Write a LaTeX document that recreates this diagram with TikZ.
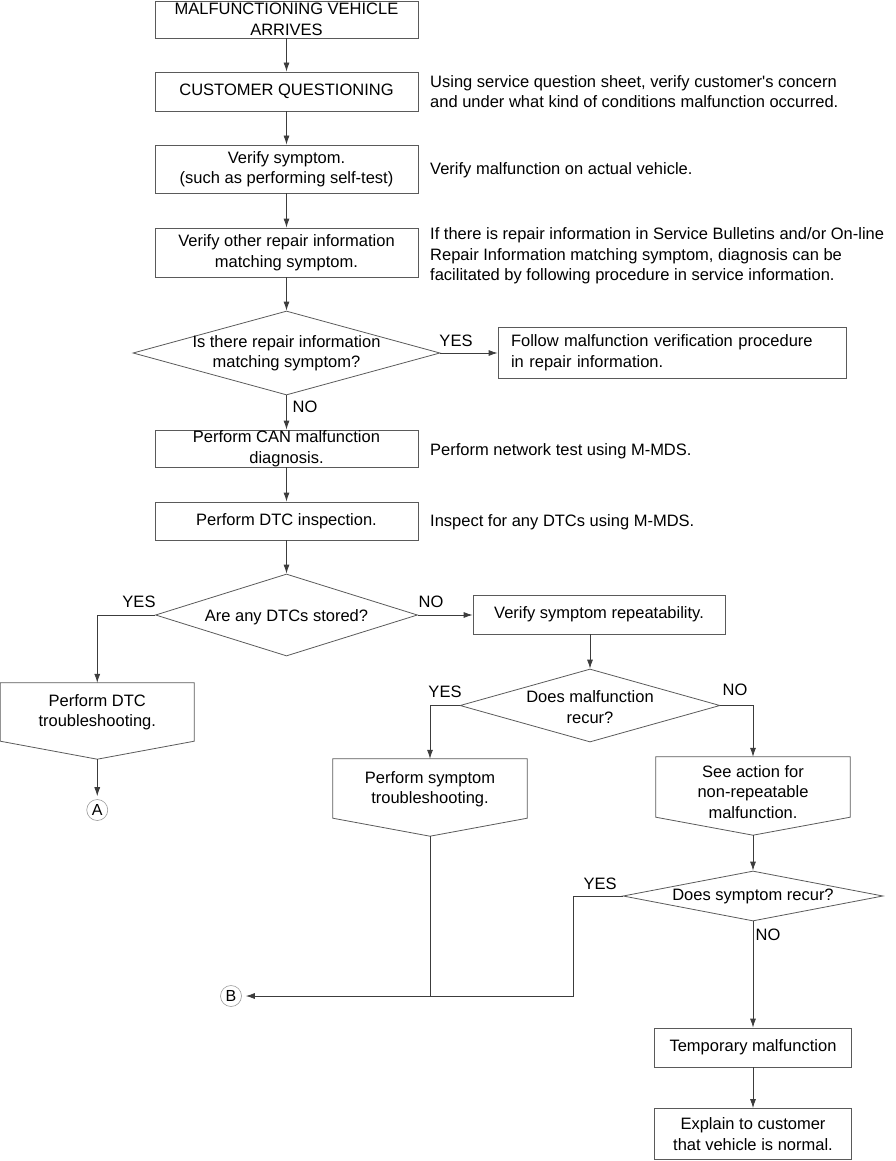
\documentclass[tikz,border=0pt]{standalone}
\usepackage{fontspec}
\setmainfont{Liberation Sans}[Ligatures=TeXOff]
\usetikzlibrary{shapes.geometric,arrows.meta}
\definecolor{boxc}{HTML}{5A5A5A}
\definecolor{linec}{HTML}{3C3C3C}
\definecolor{circc}{HTML}{9A9A9A}
\begin{document}
\begin{tikzpicture}[x=1pt,y=-1pt,
  every node/.style={font=\fontsize{16.5}{20.5}\selectfont, inner sep=0pt},
  box/.style={draw=boxc, line width=0.8pt, align=center},
  dia/.style={draw=boxc, line width=0.8pt, diamond},
  lbl/.style={},
  side/.style={anchor=west, align=left},
  arr/.style={draw=linec, line width=0.8pt, -{Latex[length=9pt,width=6pt]}},
  ln/.style={draw=linec, line width=0.8pt},
  circ/.style={circle, draw=circc, line width=0.6pt, minimum size=21pt, font=\fontsize{16}{16}\selectfont}
]
\useasboundingbox (0,0) rectangle (896,1161);

% main column boxes
\node[box, minimum width=263pt, minimum height=37pt] (b1) at (286.5,19.5) {MALFUNCTIONING VEHICLE\\ARRIVES};
\node[box, minimum width=263pt, minimum height=39pt] (b2) at (286.5,91.5) {CUSTOMER QUESTIONING};
\node[box, minimum width=263pt, minimum height=48pt] (b3) at (286.5,169) {Verify symptom.\\(such as performing self-test)};
\node[box, minimum width=263pt, minimum height=49pt] (b4) at (286.5,252.5) {Verify other repair information\\matching symptom.};
\node[dia, minimum width=307pt, minimum height=84pt] (d1) at (286.5,353) {};
\node[align=center] (d1t) at (286.5,353) {Is there repair information\\matching symptom?};
\node[box, align=left, text width=322pt, inner xsep=13pt, minimum height=51pt] (fol) at (672,352.5) {Follow malfunction verification procedure\\in repair information.};
\node[box, minimum width=263pt, minimum height=37pt] (b5) at (286.5,448.5) {Perform CAN malfunction\\diagnosis.};
\node[box, minimum width=263pt, minimum height=38pt] (b6) at (286.5,521) {Perform DTC inspection.};
\node[dia, minimum width=262pt, minimum height=82pt] (d2) at (286.5,615) {};
\node (d2t) at (286.5,617) {Are any DTCs stored?};
\node[box, minimum width=252pt, minimum height=39pt] (vsr) at (599,614.5) {Verify symptom repeatability.};
\node[dia, minimum width=260pt, minimum height=73pt] (d3) at (590,705.5) {};
\node[align=center] (d3t) at (590,707) {Does malfunction\\recur?};

% pentagons
\node[minimum width=193.5pt, minimum height=58pt] (p1) at (97.25,712) {};
\node[align=center] (p1t) at (97.25,712) {Perform DTC\\troubleshooting.};
\coordinate[yshift=-18pt] (p1tip) at (p1.south);
\draw[draw=boxc, line width=0.8pt] (p1.north west) -- (p1.north east) -- (p1.south east) -- (p1tip) -- (p1.south west) -- cycle;

\node[minimum width=194pt, minimum height=59pt] (p2) at (430,788.5) {};
\node[align=center] (p2t) at (430,789) {Perform symptom\\troubleshooting.};
\coordinate[yshift=-18pt] (p2tip) at (p2.south);
\draw[draw=boxc, line width=0.8pt] (p2.north west) -- (p2.north east) -- (p2.south east) -- (p2tip) -- (p2.south west) -- cycle;

\node[minimum width=194pt, minimum height=60pt] (p3) at (753,787) {};
\node[align=center] (p3t) at (753,792) {See action for\\non-repeatable\\malfunction.};
\coordinate[yshift=-18pt] (p3tip) at (p3.south);
\draw[draw=boxc, line width=0.8pt] (p3.north west) -- (p3.north east) -- (p3.south east) -- (p3tip) -- (p3.south west) -- cycle;

\node[dia, minimum width=260pt, minimum height=50pt] (d4) at (753,896) {};
\node (d4t) at (753,896) {Does symptom recur?};
\node[box, minimum width=197pt, minimum height=39pt] (tmp) at (753,1047.5) {Temporary malfunction};
\node[box, minimum width=197pt, minimum height=51pt] (exp) at (753,1134) {Explain to customer\\that vehicle is normal.};

% connector circles
\node[circ] (A) at (97.25,810) {A};
\node[circ] (B) at (231,996) {B};
\coordinate (yx) at (573,896);

% side notes
\node[side] (s1) at (430,91.5) {Using service question sheet, verify customer's concern\\and under what kind of conditions malfunction occurred.};
\node[side] (s2) at (430,170) {Verify malfunction on actual vehicle.};
\node[side] (s3) at (430,256) {If there is repair information in Service Bulletins and/or On-line\\Repair Information matching symptom, diagnosis can be\\facilitated by following procedure in service information.};
\node[side] (s4) at (430,451) {Perform network test using M-MDS.};
\node[side] (s5) at (430,522) {Inspect for any DTCs using M-MDS.};

% labels
\node[lbl] (l1) at (456,341) {YES};
\node[lbl] (l2) at (305,407) {NO};
\node[lbl] (l3) at (139,602) {YES};
\node[lbl] (l4) at (431,602) {NO};
\node[lbl] (l5) at (445,692) {YES};
\node[lbl] (l6) at (735,690) {NO};
\node[lbl] (l7) at (600,884) {YES};
\node[lbl] (l8) at (768,935) {NO};

% arrows
\draw[arr] (b1) -- (b2);
\draw[arr] (b2) -- (b3);
\draw[arr] (b3) -- (b4);
\draw[arr] (b4) -- (d1.north);
\draw[arr] (d1.east) -- (fol.west |- d1.east);
\draw[arr] (d1.south) -- (b5.north);
\draw[arr] (b5) -- (b6);
\draw[arr] (b6) -- (d2.north);
\draw[arr] (d2.west) -| (p1.north);
\draw[arr] (d2.east) -- (d2.east -| vsr.west);
\draw[arr] (d3.north |- vsr.south) -- (d3.north);
\draw[arr] (d3.west) -| (p2.north);
\draw[arr] (d3.east) -| (p3.north);
\draw[arr] (p1tip) -- ([yshift=3pt]A.north);
\draw[arr] (p3tip) -- (d4.north);
\draw[arr] (d4.south) -- (tmp.north);
\draw[arr] (tmp) -- (exp);
\draw[ln] (p2tip) -- (p2tip |- B);
\draw[arr, shorten >=4pt] (d4.west) -- (d4.west -| yx) |- (B.east);
\end{tikzpicture}
\end{document}
